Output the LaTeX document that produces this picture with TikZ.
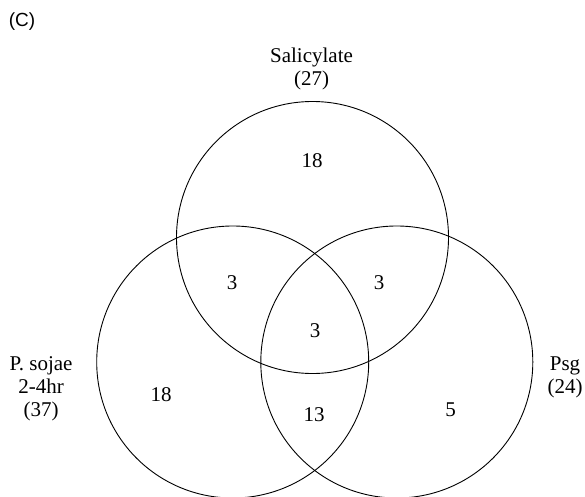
\documentclass[tikz,border=0pt]{standalone}
\usepackage{fontspec}
\setmainfont{Liberation Serif}
\setsansfont{Liberation Sans}
\begin{document}
\begin{tikzpicture}[x=1pt,y=1pt,
  setcircle/.style={draw=black,line width=0.9pt},
  lbl/.style={font=\fontsize{21}{23}\selectfont,align=center,inner sep=0pt},
  num/.style={font=\fontsize{21}{23}\selectfont,inner sep=0pt}]
\useasboundingbox (0,0) rectangle (585,496);
\clip (0,0) rectangle (585,496);
\node[inner sep=0pt,font=\sffamily\fontsize{19}{21}\selectfont] (panel) at (22,474) {(C)};
\draw[setcircle] (312.5,258.5) circle (136);
\draw[setcircle] (232.7,134) circle (136);
\draw[setcircle] (396.8,134) circle (136);
\node[lbl] (sal) at (311.5,427.5) {Salicylate\\(27)};
\node[lbl] (ps) at (41,107) {P. sojae\\2-4hr\\(37)};
\node[lbl] (psg) at (565,118.5) {Psg\\(24)};
\node[num] (n1) at (312,335) {18};
\node[num] (n2) at (232,213) {3};
\node[num] (n3) at (379,213) {3};
\node[num] (n4) at (315,165) {3};
\node[num] (n5) at (161,101) {18};
\node[num] (n6) at (314,81) {13};
\node[num] (n7) at (450.5,86) {5};
\end{tikzpicture}
\end{document}
